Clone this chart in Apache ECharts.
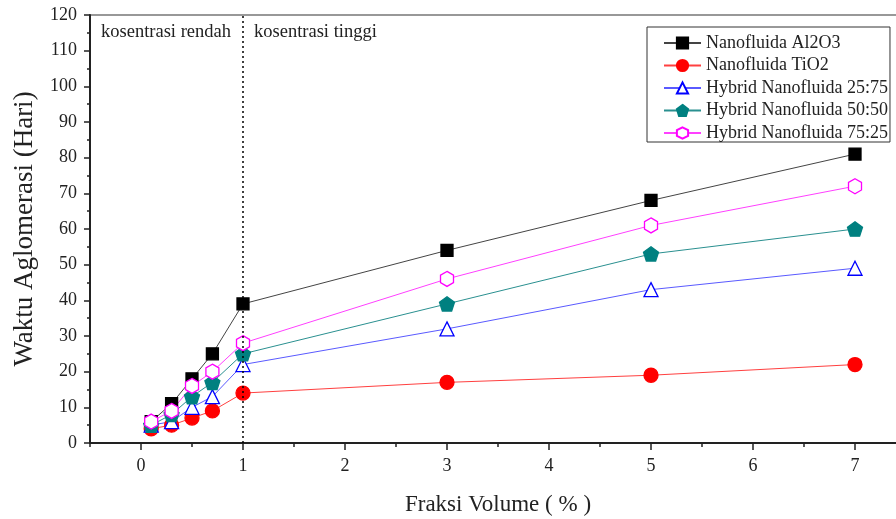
<!DOCTYPE html>
<html>
<head>
<meta charset="utf-8">
<script src="https://cdn.jsdelivr.net/npm/echarts@6/dist/echarts.min.js"></script>
<style>html,body{margin:0;padding:0;background:#fff}#c{width:896px;height:519px}</style>
</head>
<body>
<div id="c"></div>
<script>
const xValues = [0.1, 0.3, 0.5, 0.7, 1, 3, 5, 7];
const al2o3 = [6, 11, 18, 25, 39, 54, 68, 81];
const tio2 = [4, 5, 7, 9, 14, 17, 19, 22];
const hybrid2575 = [5, 6, 10, 13, 22, 32, 43, 49];
const hybrid5050 = [5, 8, 13, 17, 25, 39, 53, 60];
const hybrid7525 = [6, 9, 16, 20, 28, 46, 61, 72];
const xTicks = [0, 1, 2, 3, 4, 5, 6, 7];
const xMinorTicks = [-0.5, 0.5, 1.5, 2.5, 3.5, 4.5, 5.5, 6.5, 7.5];
const seriesNames = ['Nanofluida Al2O3', 'Nanofluida TiO2', 'Hybrid Nanofluida 25:75', 'Hybrid Nanofluida 50:50', 'Hybrid Nanofluida 75:25'];
const divider = 1;

const pair = arr => xValues.map((x, i) => [x, arr[i]]);
const FONT = '"Liberation Serif", "DejaVu Serif", serif';
const pentagon = 'path://M0,-1 L0.951,-0.309 L0.588,0.809 L-0.588,0.809 L-0.951,-0.309 Z';
const hexagon = 'path://M0,-1 L0.866,-0.5 L0.866,0.5 L0,1 L-0.866,0.5 L-0.866,-0.5 Z';

function mk(name, data, symbol, size, lineColor, fill, border) {
  return {
    name, type: 'line', data: pair(data), symbol, symbolSize: size, symbolKeepAspect: true,
    showAllSymbol: true,
    lineStyle: { color: lineColor, width: 1 },
    itemStyle: { color: fill, borderColor: border, borderWidth: 1.3 },
    emphasis: { disabled: true },
    z: 3
  };
}

const series = [
  mk(seriesNames[0], al2o3, 'rect', 12, '#444', '#000', '#000'),
  mk(seriesNames[1], tio2, 'circle', 14, '#ff4040', '#ff0000', '#ff0000'),
  mk(seriesNames[2], hybrid2575, 'triangle', 14, '#5a5aff', '#fff', '#0000ff'),
  mk(seriesNames[3], hybrid5050, pentagon, 15, '#2a9090', '#008080', '#008080'),
  mk(seriesNames[4], hybrid7525, hexagon, 15, '#ff40ff', '#fff', '#ff00ff')
];
series[0].markLine = {
  silent: true, symbol: 'none', label: { show: false },
  lineStyle: { color: '#000', type: [2, 3], width: 1.5 },
  data: [{ xAxis: divider }]
};

const chart = echarts.init(document.getElementById('c'));
chart.setOption({
  animation: false,
  backgroundColor: '#fff',
  grid: { left: 90, right: -10, top: 15, bottom: 76, outerBoundsMode: 'none', containLabel: false,
          show: true, borderColor: '#333', borderWidth: 1.2 },
  xAxis: [{
    type: 'value', min: -0.5, max: 7.5,
    name: 'Fraksi Volume ( % )', nameLocation: 'middle', nameGap: 50,
    nameTextStyle: { fontFamily: FONT, fontSize: 23, color: '#222' },
    axisLine: { show: true, onZero: false, lineStyle: { color: '#222', width: 2 } },
    axisTick: { show: true, customValues: xTicks, length: 7, lineStyle: { color: '#222', width: 1.5 } },
    axisLabel: { customValues: xTicks, fontFamily: FONT, fontSize: 18, color: '#222', margin: 14 },
    splitLine: { show: false }
  }, {
    type: 'value', min: -0.5, max: 7.5, position: 'bottom', offset: 0,
    axisLine: { show: false, onZero: false },
    axisTick: { show: true, customValues: xMinorTicks, length: 4, lineStyle: { color: '#222', width: 1.5 } },
    axisLabel: { show: false },
    splitLine: { show: false }
  }],
  yAxis: {
    type: 'value', min: 0, max: 120, interval: 10,
    name: 'Waktu Aglomerasi (Hari)', nameLocation: 'middle', nameGap: 52,
    nameTextStyle: { fontFamily: FONT, fontSize: 27, color: '#222' },
    axisLine: { show: true, onZero: false, lineStyle: { color: '#222', width: 2 } },
    axisTick: { show: true, length: 6, lineStyle: { color: '#222', width: 1.5 } },
    minorTick: { show: true, splitNumber: 2, length: 3, lineStyle: { color: '#222', width: 1.5 } },
    axisLabel: { fontFamily: FONT, fontSize: 18, color: '#222', margin: 13 },
    splitLine: { show: false }
  },
  legend: {
    orient: 'vertical', left: 647, top: 27,
    data: seriesNames,
    backgroundColor: '#fff', borderColor: '#333', borderWidth: 1,
    padding: [7, 2, 0, 16], itemGap: 4.5, itemWidth: 37, itemHeight: 14, itemTextGap: 7,
    textStyle: { fontFamily: FONT, fontSize: 18, color: '#222' },
    selectedMode: false
  },
  graphic: [
    { type: 'text', left: 101, top: 23, style: { text: 'kosentrasi rendah', font: '18.5px ' + FONT, fill: '#222' } },
    { type: 'text', left: 254, top: 23, style: { text: 'kosentrasi tinggi', font: '18.5px ' + FONT, fill: '#222' } }
  ],
  series
});
</script>
</body>
</html>
